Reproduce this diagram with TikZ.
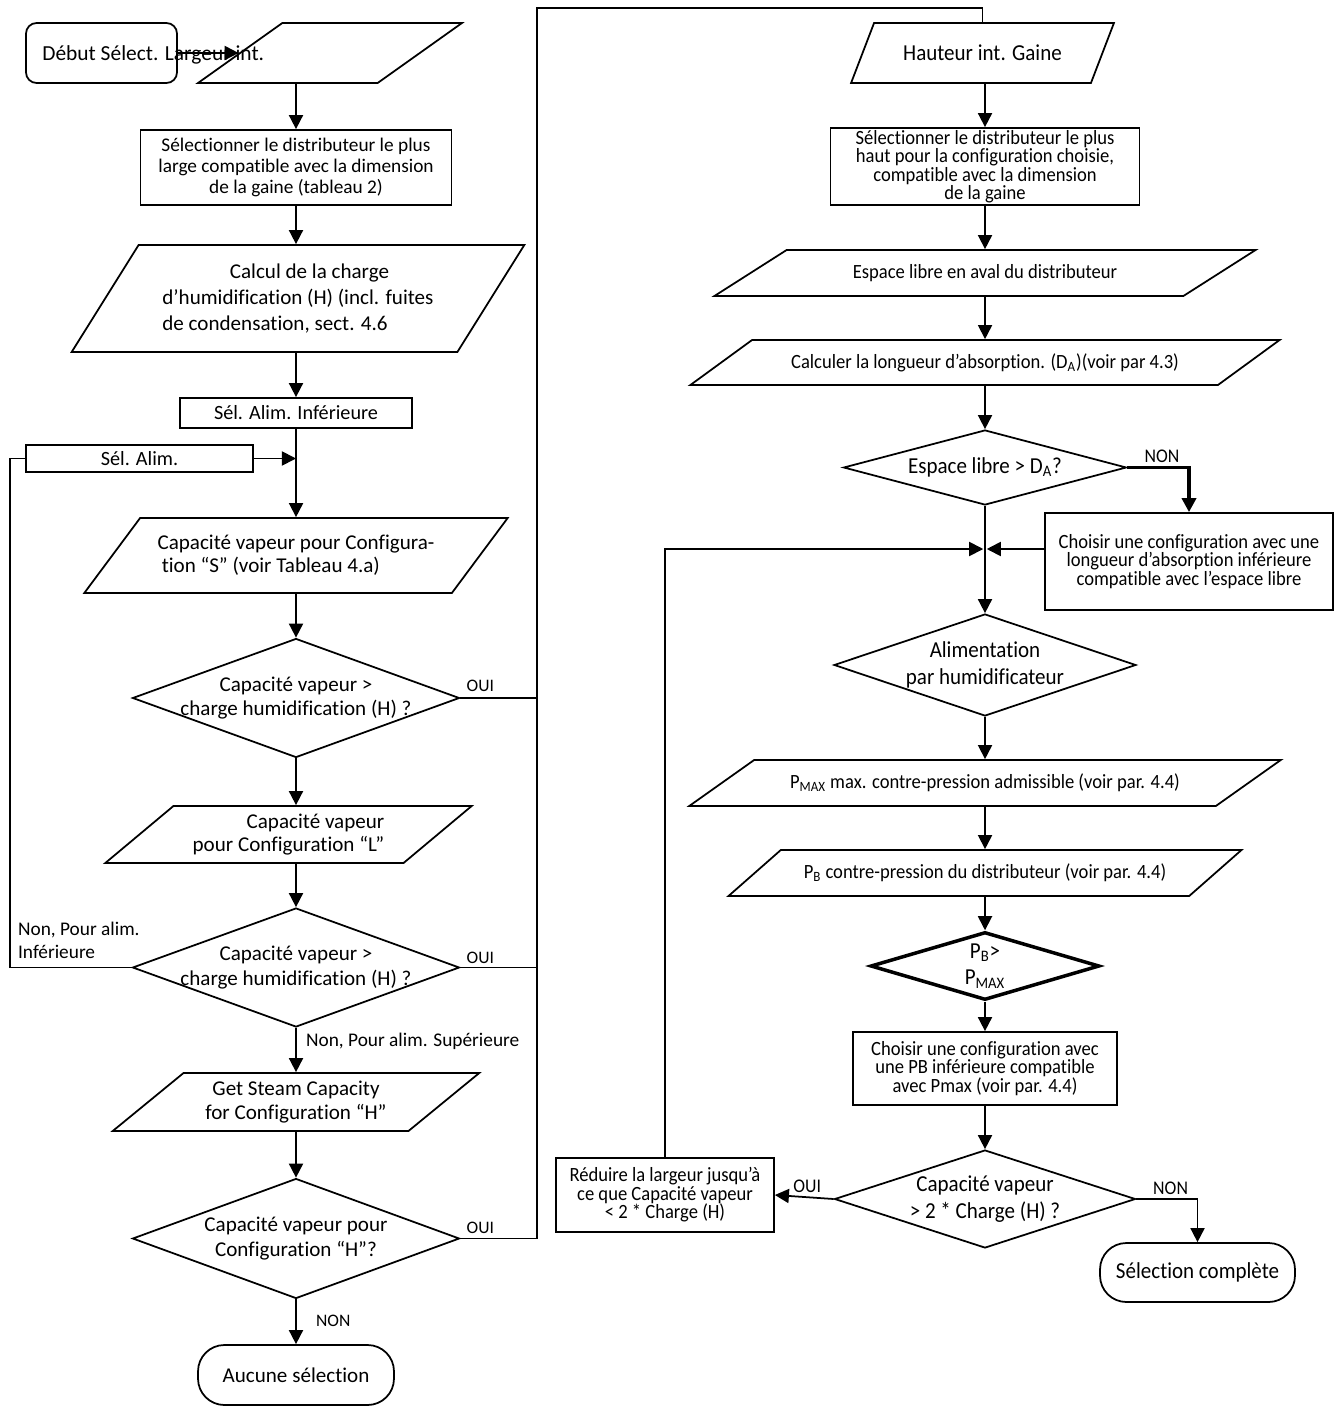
\documentclass[tikz,border=0pt]{standalone}
\usepackage{fontspec}
\setmainfont{Carlito}[Ligatures={TeX,NoCommon}]
\newfontfamily\narrowfont[FakeStretch=0.92,Ligatures={TeX,NoCommon}]{Carlito}
\usetikzlibrary{shapes.geometric,arrows.meta}

\tikzset{
  conn/.style={line width=1pt},
  arr/.style={line width=1pt,-{Triangle[length=8pt,width=8pt]}},
  lbl/.style={font=\fontsize{10}{12}\selectfont,inner sep=1pt},
  rlbl/.style={font=\narrowfont\fontsize{11}{12}\selectfont,inner sep=1pt},
  rtext/.style={font=\narrowfont\fontsize{11.5}{10.5}\selectfont},
  bigr/.style={font=\narrowfont\fontsize{13}{15}\selectfont},
  proc/.style={draw,line width=1pt,rectangle,align=center,inner sep=1pt,font=\fontsize{12}{14}\selectfont},
  io/.style 2 args={draw,line width=1pt,trapezium,trapezium stretches=true,
    trapezium left angle=#1,trapezium right angle=#2,align=center,inner sep=1pt,
    font=\fontsize{12}{14}\selectfont},
  dec/.style={draw,line width=1pt,diamond,aspect=2.7,align=center,inner sep=0pt,
    font=\fontsize{12}{14}\selectfont},
  term/.style={draw,line width=1pt,rectangle,rounded corners=15pt,align=center,
    font=\fontsize{12}{14}\selectfont}
}

\begin{document}
\begin{tikzpicture}[x=0.02cm,y=-0.02cm]
  \useasboundingbox (0,0) rectangle (1334,1409);

  \node[term,rounded corners=6pt,minimum width=3.02cm,minimum height=1.2cm] (start) at (101.5,53) {};
  \node[anchor=west,inner sep=0pt,font=\fontsize{12.2}{14}\selectfont] (starttxt) at (42,55) {Début Sélect. Largeur int.};
  \node[io={48.5}{131.5},minimum width=5.28cm,minimum height=1.2cm] (larg) at (330,53) {};
  \node[proc,font=\fontsize{11}{12}\selectfont,minimum width=6.22cm,minimum height=1.5cm] (distl) at (296,167.5)
    {Sélectionner le distributeur le plus\\large compatible avec la dimension\\de la gaine (tableau 2)};
  \node[io={51.9}{128.1},minimum width=9.06cm,minimum height=2.14cm,align=left,font=\fontsize{12}{15}\selectfont] (charge) at (298,298.5)
    {\hspace*{3.2em}Calcul de la charge\\d'humidification (H) (incl. fuites\\de condensation, sect. 4.6};
  \node[proc,font=\fontsize{11.5}{13}\selectfont,minimum width=4.64cm,minimum height=0.6cm,inner sep=0pt] (alinf) at (296,413) {Sél. Alim. Inférieure};
  \node[proc,font=\fontsize{11.5}{13}\selectfont,minimum width=4.54cm,minimum height=0.54cm,inner sep=0pt] (alim) at (139.5,458.5) {Sél. Alim.};
  \node[io={41.1}{138.9},minimum width=8.48cm,minimum height=1.5cm,align=left,font=\fontsize{12}{13}\selectfont] (capS) at (296,555.5)
    {Capacité vapeur pour Configura-\\\hspace*{0.2em}tion “S” (voir Tableau 4.a)};
  \node[dec,inner xsep=-0.6cm,minimum width=6.54cm,minimum height=2.38cm] (q1) at (296,698)
    {Capacité vapeur >\\charge humidification (H) ?};
  \node[io={37.6}{142.4},minimum width=7.34cm,minimum height=1.14cm,align=right,font=\fontsize{12}{13}\selectfont] (capL) at (288.5,834.5)
    {Capacité vapeur\\pour Configuration “L”};
  \node[dec,inner xsep=-0.6cm,minimum width=6.54cm,minimum height=2.38cm] (q2) at (296,967.5)
    {Capacité vapeur >\\charge humidification (H) ?};
  \node[io={38.5}{141.5},minimum width=7.34cm,minimum height=1.16cm] (capH) at (296,1102)
    {Get Steam Capacity\\for Configuration “H”};
  \node[dec,inner xsep=-0.6cm,minimum width=6.54cm,minimum height=2.4cm] (q3) at (296,1238.5)
    {Capacité vapeur pour\\Configuration “H”?};
  \node[term,minimum width=3.92cm,minimum height=1.2cm] (nosel) at (296,1375) {Aucune sélection};

  \node[io={48.5}{131.5},bigr,minimum width=5.26cm,minimum height=1.2cm] (haut) at (982.5,53) {Hauteur int. Gaine};
  \node[proc,rtext,minimum width=6.18cm,minimum height=1.54cm,inner sep=0pt] (disth) at (985,166.5)
    {Sélectionner le distributeur le plus\\haut pour la configuration choisie,\\compatible avec la dimension\\de la gaine};
  \node[io={23.1}{156.9},rtext,minimum width=10.86cm,minimum height=0.92cm] (esp) at (985,273)
    {Espace libre en aval du distributeur};
  \node[io={22.8}{157.2},rtext,minimum width=11.82cm,minimum height=0.9cm] (calcl) at (985,362.5)
    {Calculer la longueur d'absorption. (D\textsubscript{A})(voir par 4.3)};
  \node[dec,bigr,aspect=3.8,minimum width=5.66cm,minimum height=1.5cm] (qesp) at (985,467.5)
    {Espace libre > D\textsubscript{A}?};
  \node[proc,rtext,minimum width=5.76cm,minimum height=1.94cm] (ch1) at (1189,561.5)
    {Choisir une configuration avec une\\longueur d'absorption inférieure\\compatible avec l'espace libre};
  \node[dec,bigr,inner xsep=-0.2cm,aspect=3,minimum width=6.04cm,minimum height=2.04cm] (qalim) at (985,665)
    {Alimentation\\par humidificateur};
  \node[io={21.3}{158.7},rtext,minimum width=11.86cm,minimum height=0.92cm] (pmax) at (985,783)
    {P\textsubscript{MAX} max. contre-pression admissible (voir par. 4.4)};
  \node[io={24.7}{155.3},rtext,minimum width=10.28cm,minimum height=0.92cm] (pb) at (985,873)
    {P\textsubscript{B} contre-pression du distributeur (voir par. 4.4)};
  \node[dec,bigr,line width=2pt,aspect=3.4,minimum width=4.58cm,minimum height=1.36cm] (qpb) at (985,966)
    {P\textsubscript{B}>\\P\textsubscript{MAX}};
  \node[proc,rtext,minimum width=5.28cm,minimum height=1.46cm] (ch2) at (985,1068.5)
    {Choisir une configuration avec\\une PB inférieure compatible\\avec Pmax (voir par. 4.4)};
  \node[dec,bigr,aspect=3.1,minimum width=6.02cm,minimum height=1.96cm] (qcap) at (985,1199)
    {Capacité vapeur\\> 2 * Charge (H) ?};
  \node[proc,rtext,minimum width=4.36cm,minimum height=1.48cm] (red) at (665,1195)
    {Réduire la largeur jusqu'à\\ce que Capacité vapeur\\< 2 * Charge (H)};
  \node[term,bigr,minimum width=3.9cm,minimum height=1.18cm] (done) at (1197.5,1272.5) {Sélection complète};

  \coordinate (lp) at (10,458.5);
  \coordinate (tl) at (537,8);

  \draw[arr] (start) -- (larg.west);
  \draw[arr] (larg.south -| distl.north) -- (distl.north);
  \draw[arr] (distl.south) -- (distl.south |- charge.north);
  \draw[arr] (charge.south -| alinf.north) -- (alinf.north);
  \draw[arr] (alinf.south) -- (capS.north);
  \draw[arr] (alim.east) -- (alim.east -| alinf.south);
  \draw[arr] (capS.south) -- (q1.north);
  \draw[arr] (q1.south) -- (q1.south |- capL.north);
  \draw[arr] (capL.south -| q2.north) -- (q2.north);
  \draw[arr] (q2.south) -- node[lbl,font=\fontsize{11}{12}\selectfont,pos=0.3,right=0.15cm] {Non, Pour alim. Supérieure} (capH.north);
  \draw[arr] (capH.south) -- (q3.north);
  \draw[arr] (q3.south) -- node[lbl,pos=0.47,right=0.35cm] {NON} (nosel.north);
  \draw[conn] (q2.west) -| (lp) -- (alim.west);
  \node[lbl,font=\fontsize{11}{13}\selectfont,align=left,anchor=north west] (noninf) at (16,920) {Non, Pour alim.\\Inférieure};

  \draw[conn] (q3.east) -| (tl) -| (haut.north);
  \draw[conn] (q1.east) -- (q1.east -| tl);
  \draw[conn] (q2.east) -- (q2.east -| tl);
  \node[lbl] (oui1) at ([xshift=0.4cm,yshift=0.24cm]q1.east) {OUI};
  \node[lbl] (oui2) at ([xshift=0.4cm,yshift=0.2cm]q2.east) {OUI};
  \node[lbl] (oui3) at ([xshift=0.4cm,yshift=0.22cm]q3.east) {OUI};

  \draw[arr] (haut.south -| disth.north) -- (disth.north);
  \draw[arr] (disth.south) -- (esp.north);
  \draw[arr] (esp.south) -- (calcl.north);
  \draw[arr] (calcl.south) -- (qesp.north);
  \draw[arr,line width=2pt] (qesp.east) -| node[rlbl,pos=0.28,above=1pt] {NON} (ch1.north);
  \draw[arr] ([yshift=0.25cm]ch1.west) -- ([yshift=0.25cm,xshift=1pt]ch1.west -| qesp.south);
  \draw[arr] (red.north) |- ([yshift=0.25cm,xshift=-1pt]ch1.west -| qesp.south);
  \draw[arr] (qesp.south) -- (qalim.north);
  \draw[arr] (qalim.south) -- (pmax.north);
  \draw[arr] (pmax.south) -- (pb.north);
  \draw[arr] (pb.south) -- (qpb.north);
  \draw[arr] (qpb.south) -- (ch2.north);
  \draw[arr] (ch2.south) -- (qcap.north);
  \draw[arr] (qcap.west) -- node[rlbl,pos=0.45,above=1pt] {OUI} (red.east);
  \draw[arr] (qcap.east) -| node[rlbl,pos=0.28,above=1pt] {NON} (done.north);
\end{tikzpicture}
\end{document}
